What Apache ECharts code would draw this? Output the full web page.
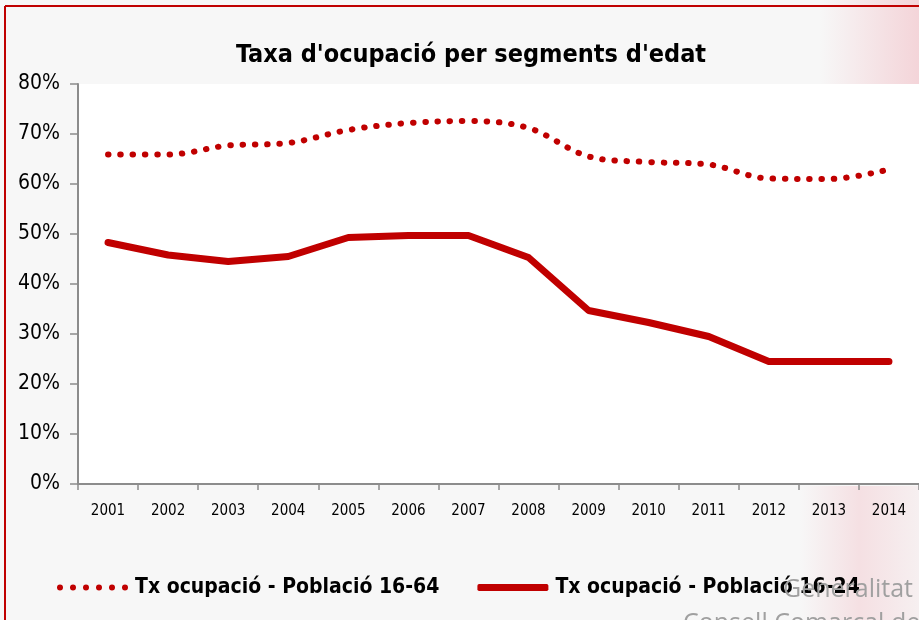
<!DOCTYPE html>
<html>
<head>
<meta charset="UTF-8">
<title>Taxa d'ocupació per segments d'edat</title>
<script src="https://cdn.jsdelivr.net/npm/echarts@6/dist/echarts.min.js"></script>
<style>
  html, body { margin: 0; padding: 0; background: #fff; }
  #main { width: 919px; height: 620px; }
</style>
</head>
<body>
<div id="main"></div>
<script>
// dades
var anys = ['2001','2002','2003','2004','2005','2006','2007','2008','2009','2010','2011','2012','2013','2014'];
var pob1664 = [65.9, 65.9, 67.7, 68.2, 70.8, 72.2, 72.6, 71.2, 65.5, 64.4, 63.9, 61.1, 61.0, 62.9];
var pob1624 = [48.3, 45.8, 44.5, 45.5, 49.3, 49.7, 49.7, 45.3, 34.7, 32.3, 29.5, 24.5, 24.5, 24.5];
var nomSeries = ['Tx ocupació - Població 16-64', 'Tx ocupació - Població 16-24'];

var vermell = '#c00000';
var font = '"Liberation Sans Narrow", "DejaVu Sans Condensed", sans-serif';

// icona de punts per a la llegenda
var punts = '';
for (var i = 0; i < 6; i++) {
  var x = i * 13;
  punts += 'M' + x + ',3a3,3 0 1,0 6,0a3,3 0 1,0 -6,0z';
}

var chart = echarts.init(document.getElementById('main'));

var option = {
  backgroundColor: '#f7f7f7',
  animation: false,
  title: {
    text: "Taxa d'ocupació per segments d'edat",
    left: 466,
    top: 38,
    textAlign: 'center',
    textStyle: { fontFamily: font, fontSize: 25, fontWeight: 'bold', color: '#000' }
  },
  graphic: [
    { type: 'rect', left: 820, top: 0, shape: { width: 99, height: 84 },
      style: { fill: new echarts.graphic.LinearGradient(0, 0, 1, 0, [
        { offset: 0, color: 'rgba(240,170,180,0)' }, { offset: 1, color: 'rgba(240,170,180,0.45)' }]) } },
    { type: 'rect', left: 800, top: 486, shape: { width: 119, height: 134 },
      style: { fill: new echarts.graphic.LinearGradient(0, 0, 1, 0, [
        { offset: 0, color: 'rgba(240,170,180,0)' }, { offset: 0.5, color: 'rgba(240,170,180,0.3)' }, { offset: 1, color: 'rgba(240,170,180,0.1)' }]) } },
    { type: 'line', shape: { x1: 5, y1: 6, x2: 919, y2: 6 }, style: { stroke: vermell, lineWidth: 2 } },
    { type: 'line', shape: { x1: 5, y1: 6, x2: 5, y2: 620 }, style: { stroke: vermell, lineWidth: 2 } },
    { type: 'text', left: 783, top: 577, z: 10,
      style: { text: 'Generalitat', fontFamily: '"Open Sans", sans-serif', fontSize: 25, fill: '#a0a0a0' } },
    { type: 'text', left: 683, top: 611, z: 10,
      style: { text: 'Consell Comarcal de', fontFamily: '"Open Sans", sans-serif', fontSize: 25, fill: '#a0a0a0' } }
  ],
  legend: {
    left: 52,
    top: 572,
    itemWidth: 71,
    itemHeight: 7,
    itemGap: 38,
    data: [
      { name: nomSeries[0], icon: 'path://' + punts, itemStyle: { color: vermell } },
      { name: nomSeries[1], icon: 'roundRect', itemStyle: { color: vermell } }
    ],
    textStyle: { fontFamily: font, fontSize: 21, fontWeight: 'bold', color: '#000', padding: [0, 0, 0, 2] }
  },
  grid: {
    left: 78,
    top: 84,
    width: 850,
    height: 400,
    show: true,
    backgroundColor: '#ffffff',
    borderWidth: 0
  },
  xAxis: {
    type: 'category',
    data: anys,
    boundaryGap: true,
    axisLine: { lineStyle: { color: '#8c8c8c', width: 2 } },
    axisTick: { show: true, length: 6, lineStyle: { color: '#8c8c8c', width: 1.5 } },
    axisLabel: { margin: 20, fontFamily: font, fontSize: 15, color: '#000' }
  },
  yAxis: {
    type: 'value',
    min: 0,
    max: 80,
    interval: 10,
    axisLine: { show: true, lineStyle: { color: '#8c8c8c', width: 2 } },
    axisTick: { show: true, length: 8, lineStyle: { color: '#8c8c8c', width: 1.5 } },
    splitLine: { show: false },
    axisLabel: { margin: 18, formatter: '{value}%', fontFamily: font, fontSize: 21, color: '#000' }
  },
  series: [
    {
      name: nomSeries[0],
      type: 'line',
      data: pob1664,
      smooth: 0.35,
      symbol: 'none',
      color: vermell,
      lineStyle: { color: vermell, width: 6, type: [0.5, 11.8], cap: 'round' }
    },
    {
      name: nomSeries[1],
      type: 'line',
      data: pob1624,
      symbol: 'none',
      color: vermell,
      lineStyle: { color: vermell, width: 7, cap: 'round', join: 'round' }
    }
  ]
};

chart.setOption(option);
</script>
</body>
</html>
